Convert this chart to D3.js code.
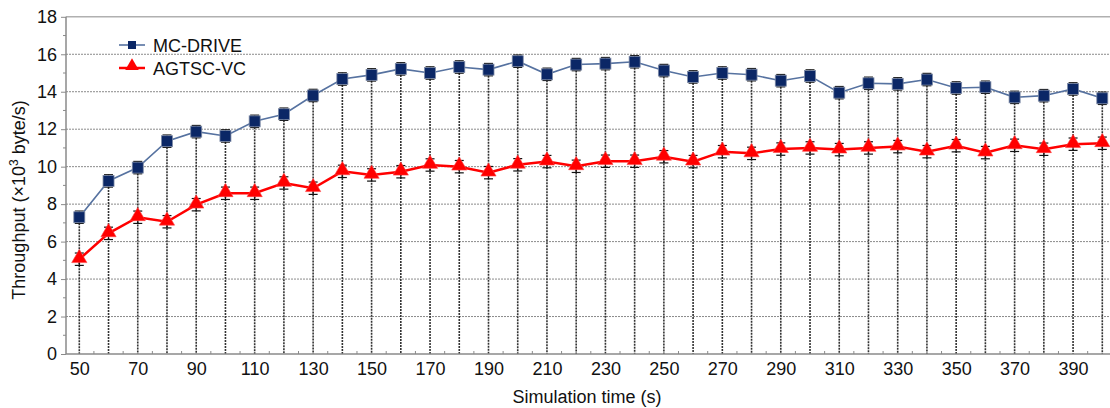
<!DOCTYPE html>
<html>
<head>
<meta charset="utf-8">
<script src="https://cdn.jsdelivr.net/npm/d3@7"></script>
<style>
  body { margin: 0; background: #fff; }
  svg { display: block; font-family: "Liberation Sans", Arial, sans-serif; }
</style>
</head>
<body>
<div id="chart"></div>
<script>
// simulation times (s)
var times = [50, 60, 70, 80, 90, 100, 110, 120, 130, 140, 150, 160, 170, 180, 190, 200, 210, 220,
    230, 240, 250, 260, 270, 280, 290, 300, 310, 320, 330, 340, 350, 360, 370, 380, 390, 400];
var mcDrive = [7.3, 9.24, 9.95, 11.36, 11.87, 11.64, 12.42, 12.8, 13.8, 14.68, 14.9, 15.22, 15.0, 15.32,
    15.18, 15.63, 14.93, 15.45, 15.5, 15.6, 15.13, 14.79, 15.0, 14.91, 14.59, 14.84, 13.95, 14.45,
    14.42, 14.65, 14.2, 14.24, 13.7, 13.79, 14.15, 13.65];
var agtscVc = [5.06, 6.44, 7.3, 7.06, 7.97, 8.58, 8.58, 9.13, 8.85, 9.75, 9.56, 9.73, 10.09, 10.0,
    9.68, 10.1, 10.27, 10.02, 10.29, 10.29, 10.53, 10.27, 10.8, 10.71, 10.94, 11.0, 10.91, 11.0,
    11.07, 10.8, 11.12, 10.75, 11.14, 10.93, 11.2, 11.25];
var errMc = 0.33, errAg = 0.33;
var yTicks = [0, 2, 4, 6, 8, 10, 12, 14, 16, 18];
var xTickLabels = [50, 70, 90, 110, 130, 150, 170, 190, 210, 230, 250, 270, 290, 310, 330, 350, 370, 390];
var seriesNames = ["MC-DRIVE", "AGTSC-VC"];

var W = 1110, H = 408;
var FS = 18;
var svg = d3.select("#chart").append("svg").attr("width", W).attr("height", H);

var x = d3.scaleLinear().domain([50, 400]).range([79.3, 1102.3]);
var y = d3.scaleLinear().domain([0, 18]).range([354, 16.8]);
var axisLeft = 66, axisRight = 1120;

var gridColor = "#8a8a8a";

// horizontal grid
svg.append("g").selectAll("line").data(yTicks.filter(function (d) { return d > 0 && d < 18; }))
    .enter().append("line")
    .attr("x1", axisLeft).attr("x2", axisRight)
    .attr("y1", function (d) { return y(d); }).attr("y2", function (d) { return y(d); })
    .attr("stroke", gridColor).attr("stroke-width", 1).attr("stroke-dasharray", "2,1");

// top border
svg.append("line").attr("x1", axisLeft).attr("x2", axisRight)
    .attr("y1", y(18)).attr("y2", y(18))
    .attr("stroke", "#b0b0b0").attr("stroke-width", 1.5);

// drop lines from upper series to axis
svg.append("g").selectAll("line").data(times).enter().append("line")
    .attr("x1", function (d) { return x(d); }).attr("x2", function (d) { return x(d); })
    .attr("y1", function (d, i) { return y(mcDrive[i]); }).attr("y2", y(0))
    .attr("stroke", "#333").attr("stroke-width", 1.6).attr("stroke-dasharray", "2,1");

// axes
var yAxis = d3.axisLeft(y).tickValues(yTicks).tickSize(5).tickPadding(4);
var gy = svg.append("g").attr("transform", "translate(" + axisLeft + ",0)").call(yAxis);
gy.select(".domain").remove();
gy.selectAll(".tick line").attr("stroke", gridColor);
gy.selectAll("text").attr("font-size", FS).attr("fill", "#111")
    .attr("font-family", "'Liberation Sans', Arial, sans-serif");
svg.append("line").attr("x1", axisLeft).attr("x2", axisLeft).attr("y1", y(18)).attr("y2", y(0))
    .attr("stroke", gridColor).attr("stroke-width", 1.5);
// minor y ticks
svg.append("g").selectAll("line").data(d3.range(1, 18, 2)).enter().append("line")
    .attr("x1", axisLeft - 3).attr("x2", axisLeft)
    .attr("y1", function (d) { return y(d); }).attr("y2", function (d) { return y(d); })
    .attr("stroke", gridColor);

var xAxis = d3.axisBottom(x).tickValues(xTickLabels).tickSize(0).tickPadding(8);
var gx = svg.append("g").attr("transform", "translate(0," + y(0) + ")").call(xAxis);
gx.select(".domain").remove();
gx.selectAll("text").attr("font-size", FS).attr("fill", "#111")
    .attr("font-family", "'Liberation Sans', Arial, sans-serif");
svg.append("line").attr("x1", axisLeft).attr("x2", axisRight).attr("y1", y(0)).attr("y2", y(0))
    .attr("stroke", gridColor).attr("stroke-width", 1.5);
// minor x ticks
svg.append("g").selectAll("line").data(d3.range(55, 406, 10)).enter().append("line")
    .attr("x1", function (d) { return x(d); }).attr("x2", function (d) { return x(d); })
    .attr("y1", y(0) - 3).attr("y2", y(0))
    .attr("stroke", gridColor);

// axis titles
svg.append("text").attr("x", 587).attr("y", 403).attr("text-anchor", "middle")
    .attr("font-size", FS).attr("fill", "#111").text("Simulation time (s)");
var yt = svg.append("text").attr("transform", "translate(25,200) rotate(-90)")
    .attr("text-anchor", "middle").attr("font-size", FS).attr("fill", "#111");
yt.append("tspan").text("Throughput (×10");
yt.append("tspan").attr("dy", -7).attr("font-size", 12).text("3");
yt.append("tspan").attr("dy", 7).text(" byte/s)");

// series
var line = d3.line().x(function (d, i) { return x(times[i]); }).y(function (d) { return y(d); });

function errorBars(vals, err) {
    var g = svg.append("g").attr("stroke", "#111").attr("stroke-width", 1.2);
    vals.forEach(function (v, i) {
        var cx = x(times[i]);
        g.append("line").attr("x1", cx).attr("x2", cx).attr("y1", y(v + err)).attr("y2", y(v - err));
        g.append("line").attr("x1", cx - 4.5).attr("x2", cx + 4.5).attr("y1", y(v + err)).attr("y2", y(v + err));
        g.append("line").attr("x1", cx - 4.5).attr("x2", cx + 4.5).attr("y1", y(v - err)).attr("y2", y(v - err));
    });
}

errorBars(agtscVc, errAg);
svg.append("path").datum(agtscVc).attr("d", line)
    .attr("fill", "none").attr("stroke", "#ff0000").attr("stroke-width", 2.5);
var tri = d3.symbol().type(d3.symbolTriangle).size(100);
svg.append("g").selectAll("path").data(agtscVc).enter().append("path")
    .attr("d", tri)
    .attr("transform", function (d, i) { return "translate(" + x(times[i]) + "," + (y(d) - 1) + ")"; })
    .attr("fill", "#ff0000").attr("stroke", "#ff4040").attr("stroke-width", 0.6);

errorBars(mcDrive, errMc);
svg.append("path").datum(mcDrive).attr("d", line)
    .attr("fill", "none").attr("stroke", "#5672a0").attr("stroke-width", 1.6);
svg.append("g").selectAll("rect").data(mcDrive).enter().append("rect")
    .attr("x", function (d, i) { return x(times[i]) - 5.5; })
    .attr("y", function (d) { return y(d) - 5.5; })
    .attr("width", 11).attr("height", 11)
    .attr("fill", "#0b2766").attr("stroke", "#7d8aa6").attr("stroke-width", 0.8);

// legend
var legend = svg.append("g");
legend.append("line").attr("x1", 119).attr("x2", 145).attr("y1", 45).attr("y2", 45)
    .attr("stroke", "#5672a0").attr("stroke-width", 1.6);
legend.append("rect").attr("x", 128).attr("y", 41).attr("width", 8).attr("height", 8)
    .attr("fill", "#0b2766");
legend.append("text").attr("x", 153).attr("y", 52).attr("font-size", FS).attr("fill", "#111")
    .text(seriesNames[0]);
legend.append("line").attr("x1", 119).attr("x2", 145).attr("y1", 68).attr("y2", 68)
    .attr("stroke", "#ff0000").attr("stroke-width", 2.5);
legend.append("path").attr("d", d3.symbol().type(d3.symbolTriangle).size(80))
    .attr("transform", "translate(132,66)").attr("fill", "#ff0000");
legend.append("text").attr("x", 153).attr("y", 75).attr("font-size", FS).attr("fill", "#111")
    .text(seriesNames[1]);
</script>
</body>
</html>
